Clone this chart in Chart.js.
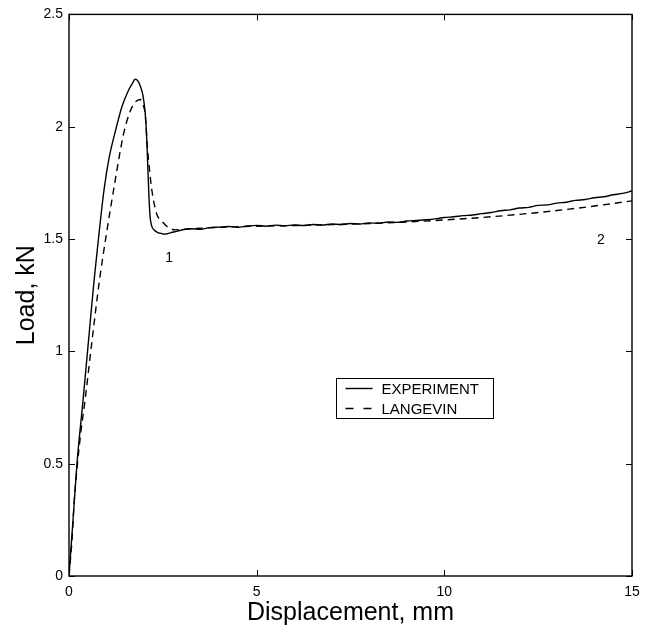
<!DOCTYPE html>
<html>
<head>
<meta charset="utf-8">
<script src="https://cdn.jsdelivr.net/npm/chart.js@4.4.1/dist/chart.umd.min.js"></script>
<style>
  html, body { margin: 0; padding: 0; background: #ffffff; }
  #wrap { width: 659px; height: 633px; position: relative; }
</style>
</head>
<body>
<div id="wrap"><canvas id="c" width="659" height="633"></canvas></div>
<script>
// ---- data ----
const seriesNames = ['EXPERIMENT', 'LANGEVIN'];

const expDisp = [0, 0.107, 0.213, 0.374, 0.52, 0.667, 0.80, 0.934, 1.067, 1.228, 1.414, 1.574, 1.68, 1.761,
  1.83, 1.90, 1.97, 2.03, 2.07, 2.10, 2.13, 2.16, 2.20, 2.27, 2.35, 2.45, 2.55, 2.65, 2.75, 2.90,
  3.0, 3.25, 3.5, 3.75, 4.0, 4.25, 4.5, 4.75, 5.0, 5.25, 5.5, 5.75, 6.0, 6.25, 6.5, 6.75, 7.0, 7.25,
  7.5, 7.75, 8.0, 8.25, 8.5, 8.75, 9.0, 9.25, 9.5, 9.75, 10.0, 10.25, 10.5, 10.75, 11.0, 11.25, 11.5,
  11.75, 12.0, 12.25, 12.5, 12.75, 13.0, 13.25, 13.5, 13.75, 14.0, 14.25, 14.5, 14.75, 15.0];
const expLoad = [0, 0.249, 0.502, 0.782, 1.048, 1.314, 1.525, 1.72, 1.86, 1.975, 2.091, 2.158, 2.19, 2.211,
  2.205, 2.18, 2.14, 2.06, 1.95, 1.82, 1.69, 1.60, 1.56, 1.54, 1.53, 1.525, 1.522, 1.525, 1.530, 1.535,
  1.540, 1.546, 1.543, 1.551, 1.553, 1.556, 1.552, 1.558, 1.561, 1.557, 1.562, 1.559, 1.563, 1.560, 1.565, 1.562, 1.567, 1.565,
  1.569, 1.567, 1.572, 1.570, 1.576, 1.574, 1.580, 1.583, 1.586, 1.590, 1.596, 1.599, 1.604, 1.607, 1.613, 1.618, 1.626,
  1.630, 1.638, 1.641, 1.650, 1.652, 1.660, 1.664, 1.672, 1.676, 1.684, 1.688, 1.697, 1.703, 1.714];

const lanDisp = [0, 0.08, 0.141, 0.227, 0.312, 0.427, 0.614, 0.81, 1.01, 1.228, 1.45, 1.60, 1.735, 1.895,
  1.975, 2.03, 2.09, 2.15, 2.21, 2.34, 2.47, 2.65, 2.83, 3.2, 4, 5, 6, 7, 8, 9, 10, 11, 12, 13, 14, 15];
const lanLoad = [0, 0.16, 0.337, 0.502, 0.635, 0.782, 1.048, 1.314, 1.536, 1.758, 1.965, 2.055, 2.103, 2.121,
  2.096, 2.056, 1.906, 1.80, 1.714, 1.61, 1.58, 1.551, 1.541, 1.545, 1.552, 1.557, 1.560, 1.564, 1.569, 1.576,
  1.585, 1.596, 1.610, 1.627, 1.647, 1.670];

const xTicks = [0, 5, 10, 15];
const yTicks = [0, 0.5, 1, 1.5, 2, 2.5];

const annotText = ['1', '2'];
const annotX = [2.67, 14.17];
const annotY = [1.417, 1.494];

const xTitle = 'Displacement, mm';
const yTitle = 'Load, kN';
// --------------------------------------

const FONT = '"Liberation Sans", Arial, Helvetica, sans-serif';
const toPts = (xs, ys) => xs.map((x, i) => ({ x: x, y: ys[i] }));

const framePlugin = {
  id: 'frame',
  afterDatasetsDraw(chart) {
    const { ctx, chartArea: a, scales } = chart;
    const x = scales.x, y = scales.y;
    ctx.save();
    ctx.strokeStyle = '#000';
    ctx.lineWidth = 1.4;
    ctx.strokeRect(a.left, a.top, a.right - a.left, a.bottom - a.top);
    const tl = 6;
    ctx.lineWidth = 1;
    ctx.beginPath();
    xTicks.forEach(v => {
      const px = Math.round(x.getPixelForValue(v)) + 0.5;
      ctx.moveTo(px, a.bottom); ctx.lineTo(px, a.bottom - tl);
      ctx.moveTo(px, a.top); ctx.lineTo(px, a.top + tl);
    });
    yTicks.forEach(v => {
      const py = Math.round(y.getPixelForValue(v)) + 0.5;
      ctx.moveTo(a.left, py); ctx.lineTo(a.left + tl, py);
      ctx.moveTo(a.right, py); ctx.lineTo(a.right - tl, py);
    });
    ctx.stroke();

    // point annotations
    ctx.fillStyle = '#000';
    ctx.font = '14px ' + FONT;
    ctx.textAlign = 'center';
    ctx.textBaseline = 'middle';
    annotText.forEach((t, i) => {
      ctx.fillText(t, x.getPixelForValue(annotX[i]), y.getPixelForValue(annotY[i]));
    });

    // legend box
    const w = a.right - a.left, h = a.bottom - a.top;
    const bx = Math.round(a.left + w * 0.4742) + 0.5;
    const by = Math.round(a.top + h * 0.6483) + 0.5;
    const bw = 157, bh = 40;
    ctx.lineWidth = 1;
    ctx.setLineDash([]);
    ctx.strokeRect(bx, by, bw, bh);
    const ds = chart.data.datasets;
    ctx.font = '15px ' + FONT;
    ctx.textAlign = 'left';
    ctx.textBaseline = 'alphabetic';
    const rows = [by + 10, by + 30];
    ds.forEach((d, i) => {
      ctx.beginPath();
      ctx.lineWidth = 1.4;
      ctx.setLineDash(i === 1 ? [8, 10] : []);
      ctx.moveTo(bx + 9, rows[i]); ctx.lineTo(bx + 36, rows[i]);
      ctx.stroke();
      ctx.setLineDash([]);
      ctx.fillText(d.label, bx + 45, rows[i] + 5.5);
    });
    ctx.restore();
  }
};

new Chart(document.getElementById('c'), {
  type: 'scatter',
  data: {
    datasets: [
      {
        label: seriesNames[0],
        data: toPts(expDisp, expLoad),
        showLine: true,
        borderColor: '#000',
        borderWidth: 1.4,
        pointRadius: 0,
        cubicInterpolationMode: 'monotone',
        fill: false
      },
      {
        label: seriesNames[1],
        data: toPts(lanDisp, lanLoad),
        showLine: true,
        borderColor: '#000',
        borderWidth: 1.4,
        borderDash: [7, 5],
        pointRadius: 0,
        cubicInterpolationMode: 'monotone',
        fill: false
      }
    ]
  },
  options: {
    responsive: false,
    animation: false,
    layout: { padding: { top: 13, right: 27, left: 0, bottom: 0 } },
    plugins: { legend: { display: false }, tooltip: { enabled: false } },
    scales: {
      x: {
        type: 'linear',
        min: 0, max: 15,
        afterFit(s) { s.height = 57; },
        afterBuildTicks(s) { s.ticks = xTicks.map(v => ({ value: v })); },
        grid: { display: false, drawTicks: false },
        border: { display: false },
        ticks: { color: '#000', font: { family: FONT, size: 14 }, padding: 8, maxRotation: 0, callback: v => String(v) },
        title: { display: true, text: xTitle, color: '#000', font: { family: FONT, size: 25 }, padding: { top: 0, bottom: 5 } }
      },
      y: {
        type: 'linear',
        min: 0, max: 2.5,
        afterFit(s) { s.width = 69; },
        afterBuildTicks(s) { s.ticks = yTicks.map(v => ({ value: v })); },
        grid: { display: false, drawTicks: false },
        border: { display: false },
        ticks: { color: '#000', font: { family: FONT, size: 14 }, padding: 6, callback: v => String(v) },
        title: { display: true, text: yTitle, color: '#000', font: { family: FONT, size: 25 }, padding: { top: 12, bottom: 0 } }
      }
    }
  },
  plugins: [framePlugin]
});
</script>
</body>
</html>
